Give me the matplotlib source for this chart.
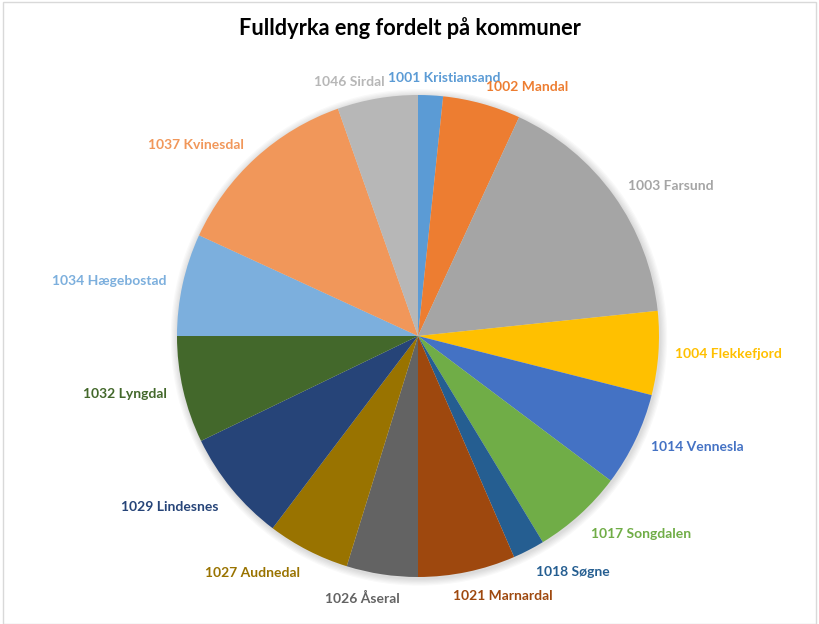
import matplotlib.pyplot as plt
from matplotlib.patches import Rectangle, Circle

plt.switch_backend("Agg")

# Data (share of slice, read as degrees of the pie)
kommuner = [
    "1001 Kristiansand", "1002 Mandal", "1003 Farsund", "1004 Flekkefjord",
    "1014 Vennesla", "1017 Songdalen", "1018 Søgne", "1021 Marnardal",
    "1026 Åseral", "1027 Audnedal", "1029 Lindesnes", "1032 Lyngdal",
    "1034 Hægebostad", "1037 Kvinesdal", "1046 Sirdal",
]
andel = [6.0, 18.8, 59.2, 20.2, 22.7, 21.9, 7.7, 23.5,
         17.2, 19.9, 27.1, 25.8, 24.7, 45.9, 19.4]
farger = [
    "#5B9BD5", "#ED7D31", "#A5A5A5", "#FFC000", "#4472C4", "#70AD47",
    "#255E91", "#9E480E", "#636363", "#997300", "#264478", "#43682B",
    "#7CAFDD", "#F1975A", "#B7B7B7",
]

plt.rcParams["font.family"] = ["Lato", "DejaVu Sans"]

W, H = 819, 624
fig = plt.figure(figsize=(W / 100, H / 100), dpi=100)

# light chart border
fig.patches.append(Rectangle((3 / W, 0), 1 - 6 / W, 1 - 2 / H, transform=fig.transFigure,
                             fill=False, edgecolor="#D9D9D9", linewidth=1))

cx, cy, r = 418, H - 336, 241
ax = fig.add_axes([(cx - r) / W, (cy - r) / H, 2 * r / W, 2 * r / H])

# soft shadow behind the pie
for k in range(6, 0, -1):
    ax.add_patch(Circle((0.004, -0.006), 1 + k * 0.005, color="black",
                        alpha=0.025, linewidth=0, zorder=0, clip_on=False))

wedges, texts = ax.pie(
    andel,
    labels=kommuner,
    colors=farger,
    startangle=90,
    counterclock=False,
    labeldistance=1.07,
    wedgeprops=dict(linewidth=0, zorder=1),
    textprops=dict(fontsize=10, fontweight="bold"),
)
for t, c in zip(texts, farger):
    t.set_color(c)
    t.set_clip_on(False)
    x, y = t.get_position()
    if y < -0.5:
        t.set_y(y - 0.03)
ax.set_xlim(-1, 1)
ax.set_ylim(-1, 1)
ax.set_aspect("equal")

# Excel nudges some labels
texts[0].set_x(-0.125)
texts[0].set_ha("left")
texts[-1].set_x(texts[-1].get_position()[0] + 0.04)
texts[7].set_ha("center")
texts[7].set_x(0.353)
texts[8].set_ha("center")
texts[8].set_x(-0.232)

fig.text(0.5, 1 - 28 / H, "Fulldyrka eng fordelt på kommuner",
         ha="center", va="center", fontsize=15.7, fontweight="bold", color="black")

fig.savefig("out.png", dpi=100)
